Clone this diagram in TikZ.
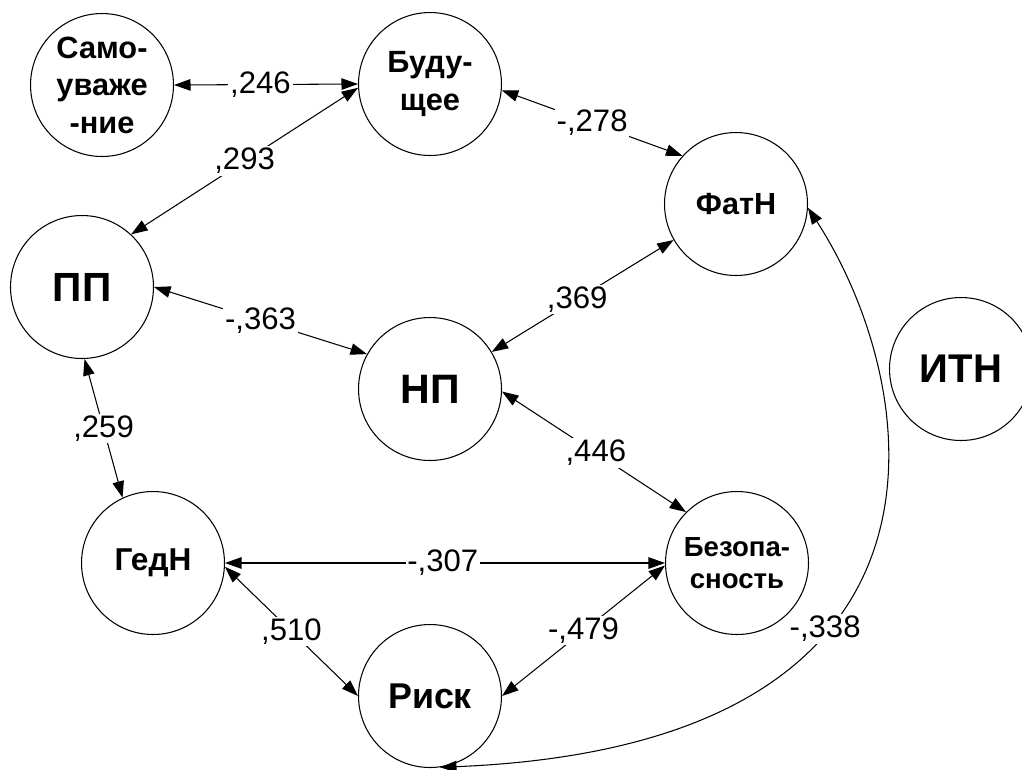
\documentclass[tikz,border=0pt]{standalone}
\usepackage{fontspec}
\setmainfont{Liberation Sans}
\usetikzlibrary{arrows.meta}
\begin{document}
\begin{tikzpicture}[x=0.02cm,y=-0.02cm,
  var/.style={draw, circle, line width=0.6pt, minimum size=2.86cm, inner sep=0pt, align=center},
  lnk/.style={line width=0.6pt, {Triangle[length=0.33cm,width=0.23cm]}-{Triangle[length=0.33cm,width=0.23cm]}},
  lab/.style={fill=white, inner sep=1pt, font=\fontsize{17.7pt}{20pt}\selectfont}]
\clip (0,0) rectangle (1022,769);
\node[var, font=\bfseries\fontsize{17.5pt}{21.3pt}\selectfont] (sam) at (102,85) {Само-\\уваже\\-ние};
\node[var, font=\bfseries\fontsize{17.5pt}{21.5pt}\selectfont] (bud) at (430,84) {Буду-\\щее};
\node[var, font=\bfseries\fontsize{17.4pt}{20pt}\selectfont] (fat) at (736,204) {ФатН};
\node[var, font=\bfseries\fontsize{23.2pt}{26pt}\selectfont] (pp) at (82,287) {ПП};
\node[var, font=\bfseries\fontsize{23.4pt}{26pt}\selectfont] (np) at (430,389) {НП};
\node[var, font=\bfseries\fontsize{22.8pt}{26pt}\selectfont] (itn) at (961,369) {ИТН};
\node[var, font=\bfseries\fontsize{18pt}{20pt}\selectfont] (ged) at (153,563) {ГедН};
\node[var, font=\bfseries\fontsize{15.7pt}{18.3pt}\selectfont] (bez) at (737,563) {Безопа-\\сность};
\node[var, font=\bfseries\fontsize{20.4pt}{22pt}\selectfont] (risk) at (430,696) {Риск};

\draw[lnk] (sam.0) -- node[lab,pos=0.47]{,246} (bud.180);
\draw[lnk] (bud.183) -- node[lab,pos=0.5]{,293} (pp.47);
\draw[lnk] (bud.-5) -- node[lab,pos=0.5]{-,278} (fat.138);
\draw[lnk] (fat.210) -- node[lab,pos=0.53]{,369} (np.31);
\draw[lnk] (pp.0) -- node[lab,pos=0.5]{-,363} (np.151);
\draw[lnk] (np.-2) -- node[lab,pos=0.51]{,446} (bez.135);
\draw[lnk] (pp.-88) -- node[lab,pos=0.5]{,259} (ged.115);
\draw[lnk] (ged.0) -- node[lab,pos=0.495]{-,307} (bez.180);
\draw[lnk] (ged.-3) -- node[lab,pos=0.5]{,510} (risk.180);
\draw[lnk] (risk.0) -- node[lab,pos=0.5]{-,479} (bez.182);
\draw[lnk] (risk.-82) .. controls (990,745) and (920,380) .. node[lab,pos=0.37]{-,338} (fat.-3);
\end{tikzpicture}
\end{document}
